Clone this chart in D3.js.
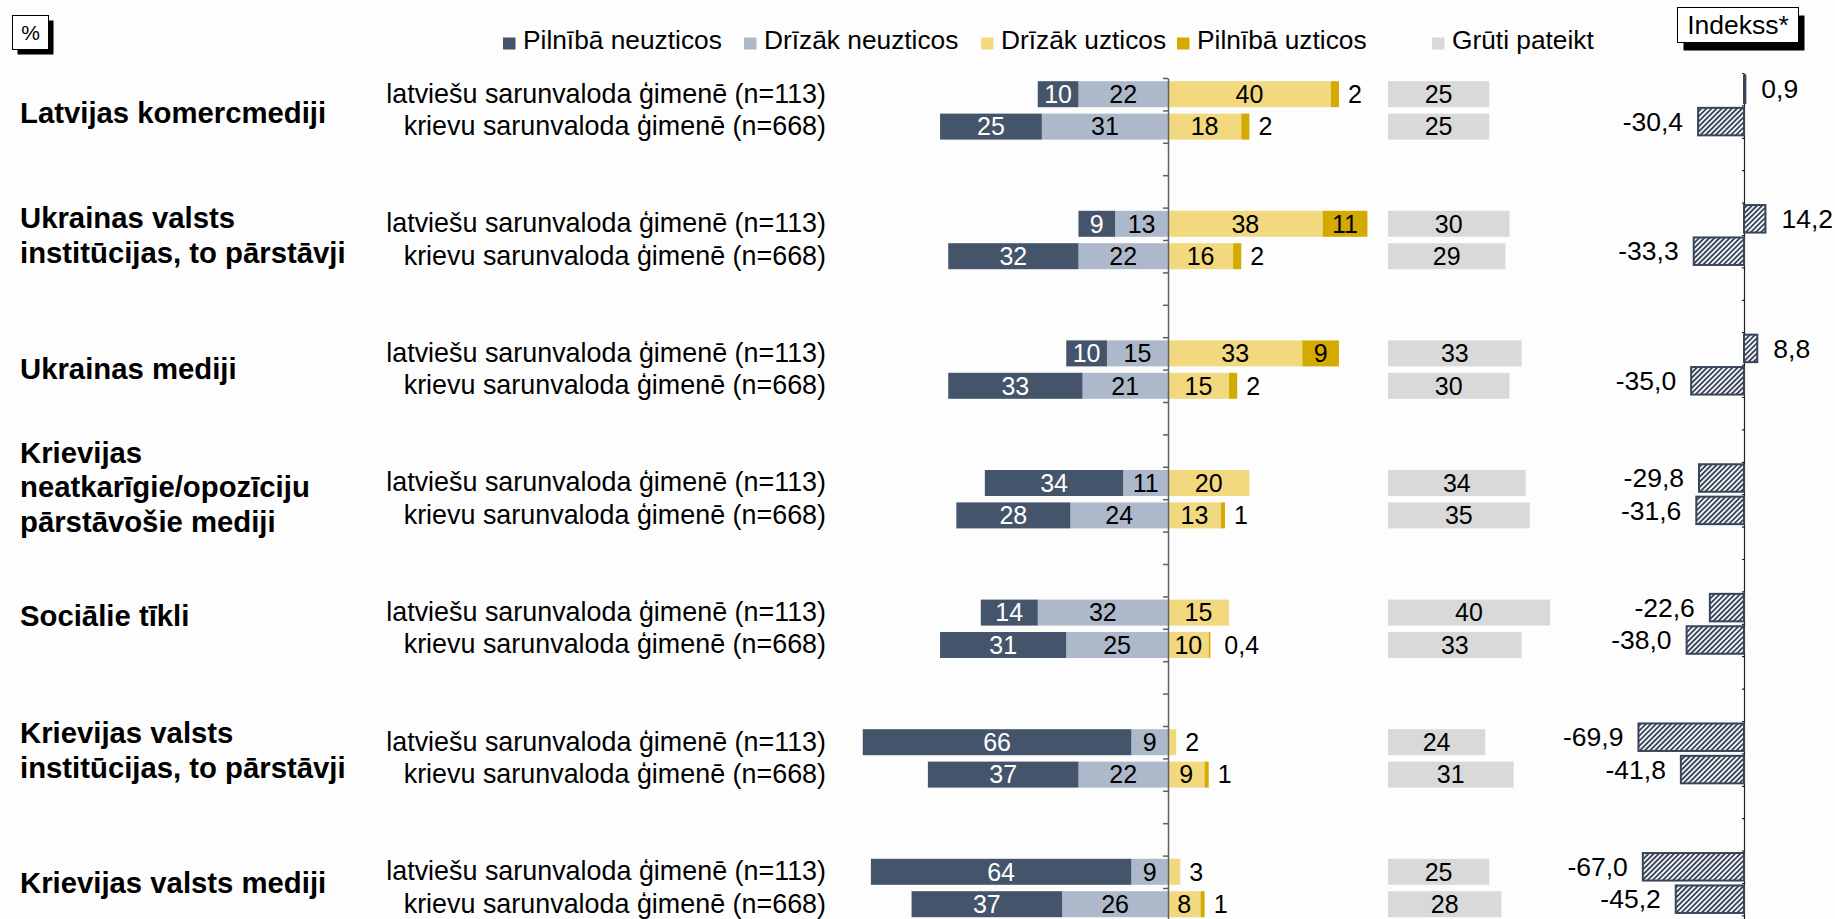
<!DOCTYPE html>
<html><head><meta charset="utf-8">
<script src="https://cdn.jsdelivr.net/npm/d3@7"></script>
<style>body{margin:0;background:#fff}svg{display:block}text{font-family:"Liberation Sans",Arial,sans-serif}</style>
</head><body><svg id="c" width="1835" height="919"></svg>
<script>
// ---------- data ----------
const categories = [
  ["Latvijas komercmediji"],
  ["Ukrainas valsts", "institūcijas, to pārstāvji"],
  ["Ukrainas mediji"],
  ["Krievijas", "neatkarīgie/opozīciju", "pārstāvošie mediji"],
  ["Sociālie tīkli"],
  ["Krievijas valsts", "institūcijas, to pārstāvji"],
  ["Krievijas valsts mediji"]
];
const groups = ["latviešu sarunvaloda ģimenē (n=113)", "krievu sarunvaloda ģimenē (n=668)"];
const seriesNames = ["Pilnībā neuzticos", "Drīzāk neuzticos", "Drīzāk uzticos", "Pilnībā uzticos", "Grūti pateikt"];
// values per row: latviešu, krievu for each category in order
const pilnibaNeuzticos = [10, 25, 9, 32, 10, 33, 34, 28, 14, 31, 66, 37, 64, 37];
const drizakNeuzticos  = [22, 31, 13, 22, 15, 21, 11, 24, 32, 25, 9, 22, 9, 26];
const drizakUzticos    = [40, 18, 38, 16, 33, 15, 20, 13, 15, 10, 2, 9, 3, 8];
const pilnibaUzticos   = [2, 2, 11, 2, 9, 2, 0, 1, 0, 0.4, 0, 1, 0, 1];
const grutiPateikt     = [25, 25, 30, 29, 33, 30, 34, 35, 40, 33, 24, 31, 25, 28];
const indekss          = [0.9, -30.4, 14.2, -33.3, 8.8, -35.0, -29.8, -31.6, -22.6, -38.0, -69.9, -41.8, -67.0, -45.2];

// ---------- styling / layout ----------
const W = 1835, H = 919;
const colors = ["#44546A", "#ADB9CA", "#F2D87E", "#D5AA00", "#D9D9D9"];
const legendX = [503, 744, 981, 1177, 1432];
const catLabelNudge = [8, 1, 5, -6, -7, -2, 1];   // vertical layout nudge of the category labels (px)
const fmt = v => (Number.isInteger(v) ? String(v) : d3.format(".1f")(v).replace(".", ","));
const fmtIdx = v => d3.format(".1f")(v).replace(".", ",").replace("−", "-");

const svg = d3.select("#c");
svg.append("rect").attr("width", W).attr("height", H).attr("fill", "#fdfdfd");

const defs = svg.append("defs");
const pw = 3.6;
const pat = defs.append("pattern").attr("id", "hatch").attr("patternUnits", "userSpaceOnUse")
  .attr("width", pw).attr("height", pw).attr("patternTransform", "rotate(45)");
pat.append("rect").attr("width", pw).attr("height", pw).attr("fill", "#fff");
pat.append("line").attr("x1", pw / 2).attr("y1", 0).attr("x2", pw / 2).attr("y2", pw)
  .attr("stroke", "#37445A").attr("stroke-width", 1.9);

// rows
const rows = d3.range(14).map(i => ({
  i, g: Math.floor(i / 2), k: i % 2,
  slot: Math.floor(i / 2) * 4 + (i % 2),
  dnNeg: -drizakNeuzticos[i], pnNeg: -pilnibaNeuzticos[i],
  du: drizakUzticos[i], pu: pilnibaUzticos[i],
  gp: grutiPateikt[i], idx: indekss[i]
}));

const step = 32.4;
const yLin = d3.scaleLinear().domain([0, 28]).range([78, 78 + 28 * step]);
const yIdx = d3.scaleLinear().domain([0, 28]).range([73, 73 + 28 * step]);
const barH = 26, idxH = 27.5;
const rowTop = s => yLin(s) + (step - barH) / 2;
const rowMid = s => yLin(s) + step / 2;

const x = d3.scaleLinear().domain([0, 100]).range([1168, 1168 + 407]);
const xg = d3.scaleLinear().domain([0, 100]).range([1388, 1388 + 405]);
const xi = d3.scaleLinear().domain([0, 100]).range([1744, 1744 + 151]);

// diverging stack
const keys = ["dnNeg", "pnNeg", "du", "pu"];
const keyColor = { dnNeg: colors[1], pnNeg: colors[0], du: colors[2], pu: colors[3] };
const keyText = { dnNeg: "#000", pnNeg: "#fff", du: "#000", pu: "#000" };
const stacked = d3.stack().keys(keys).offset(d3.stackOffsetDiverging)(rows);

const gBars = svg.append("g");
stacked.forEach(layer => {
  gBars.append("g").selectAll("rect").data(layer.filter(d => d[1] - d[0] !== 0)).join("rect")
    .attr("x", d => x(Math.min(d[0], d[1])))
    .attr("width", d => Math.abs(x(d[1]) - x(d[0])))
    .attr("y", d => rowTop(d.data.slot))
    .attr("height", barH)
    .attr("fill", keyColor[layer.key]);
});

// value labels
const gLab = svg.append("g").attr("font-size", 25);
stacked.forEach(layer => {
  layer.forEach(d => {
    const v = Math.abs(d[1] - d[0]);
    if (v === 0) return;
    const r = d.data;
    if (v >= 5) {
      gLab.append("text").attr("x", x((d[0] + d[1]) / 2)).attr("y", rowMid(r.slot))
        .attr("dy", "0.35em").attr("text-anchor", "middle").attr("fill", keyText[layer.key]).text(fmt(v));
    } else {
      const end = r.du + r.pu;
      gLab.append("text").attr("x", x(end) + (v < 1 ? 14 : 9)).attr("y", rowMid(r.slot))
        .attr("dy", "0.35em").attr("text-anchor", "start").attr("fill", "#000").text(fmt(v));
    }
  });
});

// center axis
const ax = svg.append("g").attr("transform", `translate(${x(0)},0)`)
  .call(d3.axisLeft(yLin).tickValues(d3.range(29)).tickSize(5).tickSizeOuter(0).tickFormat(""));
ax.selectAll("path,line").attr("stroke", "#5f5f5f").attr("stroke-width", 1.5);

// Grūti pateikt
svg.append("g").selectAll("rect").data(rows).join("rect")
  .attr("x", xg(0)).attr("width", d => xg(d.gp) - xg(0))
  .attr("y", d => rowTop(d.slot)).attr("height", barH).attr("fill", colors[4]);
svg.append("g").attr("font-size", 25).selectAll("text").data(rows).join("text")
  .attr("x", d => xg(d.gp / 2)).attr("y", d => rowMid(d.slot)).attr("dy", "0.35em")
  .attr("text-anchor", "middle").text(d => fmt(d.gp));

// Index
const axi = svg.append("g").attr("transform", `translate(${xi(0)},0)`)
  .call(d3.axisLeft(yIdx).tickValues(d3.range(29)).tickSize(2).tickSizeOuter(0).tickFormat(""));
axi.selectAll("path,line").attr("stroke", "#222").attr("stroke-width", 1.2);
svg.append("g").selectAll("rect").data(rows).join("rect")
  .attr("x", d => xi(Math.min(0, d.idx))).attr("width", d => Math.abs(xi(d.idx) - xi(0)))
  .attr("y", d => yIdx(d.slot) + (step - idxH) / 2).attr("height", idxH)
  .attr("fill", "url(#hatch)").attr("stroke", "#37445A").attr("stroke-width", 2);
svg.append("g").attr("font-size", 26.5).selectAll("text").data(rows).join("text")
  .attr("x", d => d.idx >= 0 ? xi(d.idx) + 16 : xi(d.idx) - 15)
  .attr("y", d => yIdx(d.slot) + step / 2).attr("dy", "0.35em")
  .attr("text-anchor", d => d.idx >= 0 ? "start" : "end").text(d => fmtIdx(d.idx));

// row sub-labels
svg.append("g").attr("font-size", 26.9).attr("text-anchor", "end").selectAll("text").data(rows).join("text")
  .attr("x", 826).attr("y", d => rowMid(d.slot) - 1).attr("dy", "0.35em").text(d => groups[d.k]);

// category labels
const gCat = svg.append("g").attr("font-size", 29.3).attr("font-weight", "bold");
categories.forEach((lines, g) => {
  const c = yLin(4 * g + 1) - 6 + catLabelNudge[g];
  lines.forEach((t, j) => {
    gCat.append("text").attr("x", 20).attr("y", c + (j - (lines.length - 1) / 2) * 34.8)
      .attr("dy", "0.35em").text(t);
  });
});

// legend
const gLeg = svg.append("g");
seriesNames.forEach((n, i) => {
  gLeg.append("rect").attr("x", legendX[i]).attr("y", 37.5).attr("width", 12.5).attr("height", 12).attr("fill", colors[i]);
  gLeg.append("text").attr("x", legendX[i] + 20).attr("y", 49).attr("font-size", 26.3).text(n);
});

// boxes
function box(x0, y0, w, h, off, label, fs) {
  svg.append("rect").attr("x", x0 + off[0]).attr("y", y0 + off[1]).attr("width", w).attr("height", h).attr("fill", "#000");
  svg.append("rect").attr("x", x0).attr("y", y0).attr("width", w).attr("height", h).attr("fill", "#fff").attr("stroke", "#000").attr("stroke-width", 1);
  svg.append("text").attr("x", x0 + w / 2).attr("y", y0 + h / 2).attr("dy", "0.35em").attr("text-anchor", "middle")
    .attr("font-size", fs).text(label);
}
box(12.5, 15.5, 36, 34, [5, 5], "%", 21);
box(1677.5, 7.5, 121, 35, [6, 8], "Indekss*", 26.5);
</script></body></html>
